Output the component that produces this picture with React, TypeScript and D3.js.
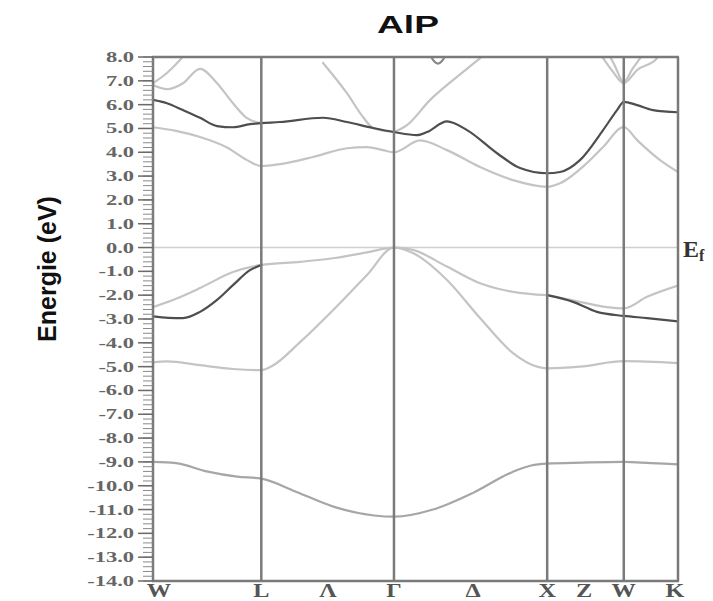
import React from 'react';
import * as d3 from 'd3';

// ---- data ----
const symPointK = [0, 0.707, 1.573, 2.573, 3.073, 3.427];
const symPointLabels = ['W', 'L', 'Γ', 'X', 'W', 'K'];
const midPointK = [1.142, 2.089, 2.814];
const midPointLabels = ['Λ', 'Δ', 'Z'];
const yTickValues = d3.range(-14, 8.001, 1);
const yMinorValues = d3.range(-14, 8.001, 0.2);

const bandS = [[0,-9.0],[0.15,-9.05],[0.35,-9.4],[0.55,-9.62],[0.707,-9.7],[0.933,-10.25],[1.188,-10.9],[1.443,-11.25],[1.573,-11.3],[1.828,-11.0],[2.089,-10.3],[2.344,-9.43],[2.468,-9.15],[2.573,-9.07],[2.8,-9.03],[3.073,-9.0],[3.25,-9.05],[3.427,-9.1]];
const bandVB1 = [[0,-4.82],[0.091,-4.78],[0.307,-4.94],[0.522,-5.1],[0.707,-5.15],[0.783,-4.95],[0.96,-3.97],[1.175,-2.63],[1.397,-1.15],[1.573,0],[1.697,-0.23],[1.919,-1.36],[2.135,-2.96],[2.35,-4.43],[2.507,-5.0],[2.573,-5.07],[2.787,-5.0],[3.073,-4.77],[3.427,-4.85]];
const bandVB2 = [[0,-2.89],[0.1,-2.95],[0.196,-2.96],[0.307,-2.7],[0.418,-2.2],[0.522,-1.58],[0.633,-0.95],[0.707,-0.73]];
const bandVB3 = [[0,-2.5],[0.15,-2.15],[0.307,-1.7],[0.522,-1.03],[0.707,-0.73],[0.96,-0.6],[1.175,-0.45],[1.397,-0.2],[1.573,0],[1.697,-0.1],[1.919,-0.8],[2.135,-1.5],[2.35,-1.86],[2.573,-2.0]];
const bandVB4 = [[2.573,-2.0],[2.742,-2.28],[2.898,-2.7],[3.073,-2.87],[3.225,-2.96],[3.427,-3.1]];
const bandVB5 = [[2.573,-2.0],[2.787,-2.28],[2.963,-2.5],[3.073,-2.55],[3.225,-2.07],[3.427,-1.6]];
const bandCB1 = [[0,5.05],[0.15,4.9],[0.307,4.64],[0.483,4.2],[0.614,3.67],[0.707,3.42],[0.829,3.5],[1.044,3.8],[1.266,4.17],[1.397,4.22],[1.501,4.09],[1.573,4.0],[1.743,4.5],[1.919,4.09],[2.135,3.38],[2.35,2.83],[2.573,2.55],[2.657,2.7],[2.833,3.55],[2.938,4.22],[3.073,5.06],[3.16,4.51],[3.31,3.67],[3.427,3.17]];
const bandCB2 = [[0,6.2],[0.091,6.06],[0.196,5.77],[0.307,5.45],[0.418,5.1],[0.522,5.05],[0.633,5.18],[0.707,5.22],[0.829,5.27],[1.11,5.45],[1.266,5.27],[1.436,5.02],[1.573,4.85],[1.723,4.72],[1.789,4.85],[1.919,5.3],[2.05,4.93],[2.246,3.96],[2.396,3.34],[2.573,3.12],[2.657,3.17],[2.787,3.67],[2.938,4.93],[3.029,5.77],[3.073,6.12],[3.16,5.98],[3.264,5.77],[3.427,5.68]];
const bandU1 = [[0,6.82],[0.091,6.65],[0.196,6.9],[0.307,7.5],[0.418,6.9],[0.522,6.06],[0.614,5.43],[0.707,5.22]];
const bandU2 = [[0,6.9],[0.091,7.33],[0.176,7.87],[0.242,8.4]];
const bandU3 = [[1.11,7.75],[1.266,6.48],[1.371,5.48],[1.436,5.02],[1.573,4.85]];
const bandU4 = [[1.573,4.85],[1.658,5.14],[1.808,6.19],[1.958,7.03],[2.135,7.95],[2.2,8.3]];
const bandU5 = [[1.80,8.2],[1.835,7.82],[1.86,7.72],[1.885,7.82],[1.92,8.2]];
const bandU6 = [[2.9,8.3],[2.938,7.95],[3.0,7.4],[3.073,6.9],[3.16,7.45],[3.29,7.95],[3.33,8.3]];
const bandU7 = [[2.96,8.3],[3.01,7.7],[3.073,6.95],[3.13,7.5],[3.22,8.3]];

const DARK = '#4e4e4e';
const LIGHT = '#c4c4c4';
const MID = '#a6a6a6';

const bands = [
  { d: bandS, c: MID },
  { d: bandVB1, c: LIGHT },
  { d: bandVB3, c: LIGHT },
  { d: bandVB2, c: DARK },
  { d: bandVB5, c: LIGHT },
  { d: bandVB4, c: DARK },
  { d: bandCB1, c: LIGHT },
  { d: bandU1, c: LIGHT },
  { d: bandU2, c: LIGHT },
  { d: bandU3, c: LIGHT },
  { d: bandU4, c: LIGHT },
  { d: bandU6, c: LIGHT },
  { d: bandU7, c: LIGHT },
  { d: bandU5, c: '#888' },
  { d: bandCB2, c: DARK },
];

const L = 153, R = 678, T = 57, B = 581;

function SText({ x, y, sx = 1, anchor = 'middle', children, ...rest }: any) {
  return (
    <text transform={`translate(${x},${y}) scale(${sx},1)`} textAnchor={anchor} {...rest}>
      {children}
    </text>
  );
}

export default function App() {
  const x = d3.scaleLinear().domain([0, 3.427]).range([L, R]);
  const y = d3.scaleLinear().domain([-14, 8]).range([B, T]);
  const line = d3.line<number[]>().x(p => x(p[0])).y(p => y(p[1])).curve(d3.curveMonotoneX);
  const fmt = (v: number) => v.toFixed(1);
  const axisCol = '#7a7a7a';
  return (
    <svg width={713} height={601} style={{ position: 'absolute', left: 0, top: 0 }}>
      <rect width={713} height={601} fill="#fff" />
      <defs>
        <clipPath id="plotclip"><rect x={L} y={T} width={R - L} height={B - T} /></clipPath>
      </defs>
      {/* title */}
      <SText x={408} y={33} sx={1.55} fontFamily="'Liberation Sans', Arial, sans-serif" fontWeight="bold" fontSize={24} fill="#111">AlP</SText>
      {/* y label */}
      <text transform={`translate(56,269) rotate(-90)`} textAnchor="middle" fontFamily="'Liberation Sans', Arial, sans-serif" fontWeight="bold" fontSize={25} fill="#111">Energie (eV)</text>
      {/* fermi line */}
      <line x1={L} x2={R} y1={y(0)} y2={y(0)} stroke="#d0d0d0" strokeWidth={1.5} />
      {/* bands */}
      <g clipPath="url(#plotclip)" fill="none" strokeWidth={2.2} strokeLinecap="round">
        {bands.map((b, i) => <path key={i} d={line(b.d as any) || ''} stroke={b.c} />)}
      </g>
      {/* vertical symmetry lines */}
      {symPointK.map((k, i) => (
        <line key={'v' + i} x1={x(k)} x2={x(k)} y1={T} y2={B} stroke={axisCol} strokeWidth={2.5} />
      ))}
      {/* frame top & bottom */}
      <line x1={L - 1} x2={R + 1} y1={T} y2={T} stroke={axisCol} strokeWidth={2.5} />
      <line x1={L - 1} x2={R + 1} y1={B} y2={B} stroke={axisCol} strokeWidth={2.5} />
      {/* y ticks */}
      {yMinorValues.map((v, i) => (
        <line key={'m' + i} x1={L - 10} x2={L} y1={y(v)} y2={y(v)} stroke="#8a8a8a" strokeWidth={1} />
      ))}
      {yTickValues.map((v, i) => (
        <g key={'t' + i}>
          <line x1={L - 15} x2={L} y1={y(v)} y2={y(v)} stroke="#6a6a6a" strokeWidth={1.5} />
          <SText x={134} y={y(v) + 5} sx={1.5} anchor="end" fontFamily="'Liberation Serif', 'Times New Roman', serif" fontWeight="bold" fontSize={15} fill="#666">{fmt(v)}</SText>
        </g>
      ))}
      {/* x labels */}
      {symPointK.map((k, i) => (
        <SText key={'xl' + i} x={Math.min(Math.max(x(k), L + 6), R - 3)} y={597} sx={1.35} fontFamily="'Liberation Serif', 'Times New Roman', serif" fontWeight="bold" fontSize={18} fill="#555">{symPointLabels[i]}</SText>
      ))}
      {midPointK.map((k, i) => (
        <SText key={'ml' + i} x={x(k)} y={597} sx={1.35} fontFamily="'Liberation Serif', 'Times New Roman', serif" fontWeight="bold" fontSize={18} fill="#555">{midPointLabels[i]}</SText>
      ))}
      {/* E_f */}
      <text x={683} y={257} fontFamily="'Liberation Serif', 'Times New Roman', serif" fontWeight="bold" fontSize={24} fill="#333">E<tspan fontSize={16} dy={4}>f</tspan></text>
    </svg>
  );
}
